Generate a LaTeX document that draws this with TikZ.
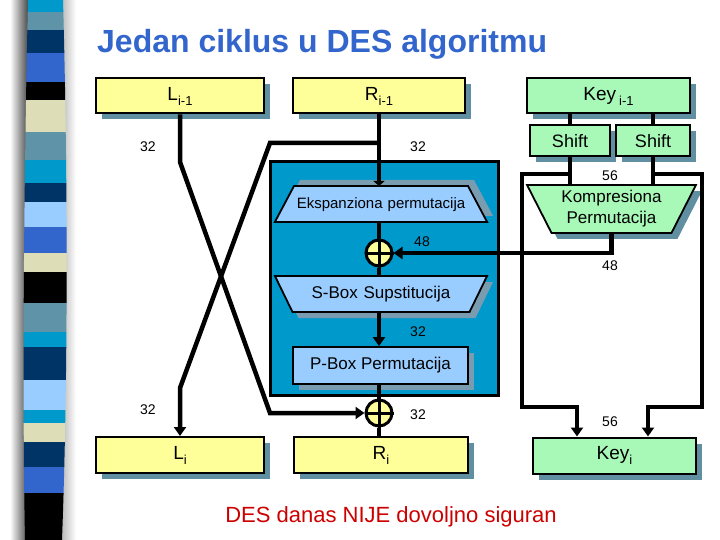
\documentclass[tikz,border=0pt]{standalone}
\usepackage{fontspec}
\setmainfont{Liberation Sans}
\usetikzlibrary{positioning,calc,shapes.geometric,shadows,arrows.meta}
\definecolor{boxyellow}{HTML}{FFFF99}
\definecolor{boxgreen}{HTML}{A8F8B8}
\definecolor{boxshadow}{HTML}{5F8FA0}
\definecolor{trapshadow}{HTML}{7A9CB0}
\definecolor{fblue}{HTML}{0099CC}
\definecolor{lightblue}{HTML}{99CCFF}
\definecolor{titleblue}{HTML}{3366CC}
\definecolor{warnred}{HTML}{CC0000}
\definecolor{scyan}{HTML}{0099CC}
\definecolor{ssteel}{HTML}{5F93A8}
\definecolor{snavy}{HTML}{003366}
\definecolor{sblue}{HTML}{3366CC}
\definecolor{scream}{HTML}{DDDDB8}
\definecolor{slight}{HTML}{99CCFF}
\newcommand{\lnode}[3]{\node [numlab] (#1) at (#2) {#3}}
\newcommand{\lsub}[1]{\raisebox{-5pt}{\fontsize{13}{13}\selectfont #1}}
\tikzset{
  shad/.style={drop shadow={shadow xshift=6pt, shadow yshift=-6pt, fill=#1, opacity=1}},
  shad/.default=boxshadow,
  ybox/.style={draw, line width=2pt, fill=boxyellow, shad, minimum height=35pt, inner sep=0pt, font=\fontsize{19}{19}\selectfont},
  gbox/.style={ybox, fill=boxgreen},
  trap/.style={trapezium, draw, line width=1.8pt, fill=lightblue, inner xsep=0pt, outer sep=0pt, align=center},
  xor/.style={circle, draw, line width=3pt, fill=boxyellow, minimum size=26pt, inner sep=0pt},
  numlab/.style={inner sep=0pt, font=\fontsize{14}{14}\selectfont},
  wire/.style={line width=4.5pt},
  >={Triangle[length=9pt,width=12pt]}
}

\begin{document}
\begin{tikzpicture}[x=1pt,y=-1pt]
\useasboundingbox (0,0) rectangle (720,540);
\fill[white] (0,0) rectangle (720,540);

% striped bar
\shade[left color=white, right color=black!75] (10,0) rectangle (29,540);
\shade[left color=black!30, right color=white] (60,0) rectangle (76,540);
\begin{scope}
\clip (28,0) .. controls (24,180) and (22,380) .. (25,540) -- (62,540) .. controls (68,380) and (68,180) .. (63,0) -- cycle;
\foreach \ya/\yb/\col in {0/12/scyan,12/30/ssteel,30/53/snavy,53/82/sblue,82/100/black,100/132/scream,132/160/ssteel,160/183/scyan,183/202/snavy,202/227/slight,227/253/sblue,253/272/scream,272/303/black,303/332/ssteel,332/347/scyan,347/380/snavy,380/410/slight,410/423/scyan,423/442/scream,442/467/snavy,467/493/sblue,493/540/black}
  \fill[\col] (15,\ya) rectangle (75,\yb);
\end{scope}

\node [anchor=base west, text=titleblue, inner sep=0pt, font=\bfseries\fontsize{32}{32}\selectfont] (title) at (97,53) {Jedan ciklus u DES algoritmu};

\node [ybox, minimum width=168pt] (Lprev) at (180,96) {L\lsub{i-1}};
\node [ybox, minimum width=172pt] (Rprev) at (379,96) {R\lsub{i-1}};
\node [gbox, minimum width=163pt] (Keyprev) at (608.5,96) {Key\,\lsub{i-1}};
\node [gbox, minimum width=80pt, minimum height=31pt, font=\fontsize{18}{18}\selectfont] (shiftA) at (570,141) {Shift};
\node [gbox, minimum width=74pt, minimum height=31pt, font=\fontsize{18}{18}\selectfont] (shiftB) at (653,141) {Shift};
\node [trap, fill=boxgreen, shad, shape border rotate=180, trapezium left angle=63, trapezium right angle=63, text width=120pt, inner ysep=5.5pt, font=\fontsize{17}{21}\selectfont] (komp) at (611.5,209) {Kompresiona\\Permutacija};

\node [draw, line width=3pt, fill=fblue, minimum width=228pt, minimum height=233pt] (fbox) at (384,278.5) {};
\node [trap, drop shadow={shadow xshift=6pt, shadow yshift=6pt, fill=trapshadow, opacity=1}, trapezium left angle=62, trapezium right angle=62, text width=174pt, text height=11pt, text depth=3pt, inner ysep=11pt, font=\fontsize{15}{15}\selectfont] (eksp) at (381,204) {Ekspanziona permutacija};
\node [xor] (xorA) at (379,253) {};
\node [trap, shad=trapshadow, shape border rotate=180, trapezium left angle=64, trapezium right angle=64, text width=177pt, text height=12.5pt, text depth=3.5pt, inner ysep=10pt, font=\fontsize{17}{17}\selectfont] (sbox) at (381,294) {S-Box Supstitucija};
\node [draw, line width=1.8pt, fill=lightblue, shad=trapshadow, minimum width=175pt, minimum height=37pt, inner sep=0pt, font=\fontsize{17}{17}\selectfont] (pbox) at (380.5,365.5) {P-Box Permutacija};
\node [xor] (xorB) at (379,413) {};

\node [ybox, minimum width=168pt, minimum height=36pt] (Lnext) at (180,455) {L\lsub{i}};
\node [ybox, minimum width=174pt, minimum height=36pt] (Rnext) at (381,455) {R\lsub{i}};
\node [gbox, minimum width=163pt, minimum height=36pt] (Keynext) at (614.5,455.5) {Key\lsub{i}};

\coordinate (rsplit) at (Rprev.south |- 0,143);
\coordinate (ksplitA) at (shiftA |- 0,174);
\coordinate (ksplitB) at (shiftB |- 0,174);

% right half through f
\draw[wire, -{Triangle[length=5pt,width=11pt]}] (Rprev.south) -- (Rprev.south |- eksp.north);
\draw[wire] (Rprev.south |- eksp.south) -- (xorA.north);
\draw[wire] (xorA.south) -- (xorA |- sbox.north);
\draw[wire, ->] (xorA |- sbox.south) -- (xorA |- pbox.north);
\draw[wire] (xorA |- pbox.south) -- (xorB.north);
\draw[wire] (xorB.south) -- (xorB |- Rnext.north);
\draw[line width=3pt] (xorA.north) -- (xorA.south) (xorA.west) -- (xorA.east);
\draw[line width=3pt] (xorB.north) -- (xorB.south) (xorB.west) -- (xorB.east);

% swap
\draw[wire, ->] (Lprev.south) -- (180,162) -- (270,413) -- (xorB.west);
\draw[wire, ->] (rsplit) -- (270,143) -- (180,388) -- (Lnext.north);

% key
\draw[wire] (Keyprev.south -| shiftA) -- (shiftA.north);
\draw[wire] (Keyprev.south -| shiftB) -- (shiftB.north);
\draw[wire] (shiftA.south) -- (shiftA |- komp.north);
\draw[wire] (shiftB.south) -- (shiftB |- komp.north);
\draw[wire, ->] (komp.south) |- (xorA.east);
\draw[wire, ->] (ksplitA) -- (522,174) -- (522,407) -- (577,407) -- ([xshift=-37.5pt]Keynext.north);
\draw[wire, ->] (ksplitB) -- (702,174) -- (702,407) -- (648,407) -- ([xshift=33.5pt]Keynext.north);

\lnode{nL}{148,147}{32};
\lnode{nR}{418,147}{32};
\lnode{nKa}{610,176}{56};
\lnode{nXa}{422,242}{48};
\lnode{nKb}{610,266}{48};
\lnode{nS}{418,332}{32};
\lnode{nLb}{148,410}{32};
\lnode{nXb}{418,415}{32};
\lnode{nKc}{610,422}{56};

\node [anchor=base, inner sep=0pt, text=warnred, font=\fontsize{22}{22}\selectfont] (note) at (391,522) {DES danas NIJE dovoljno siguran};
\end{tikzpicture}
\end{document}
